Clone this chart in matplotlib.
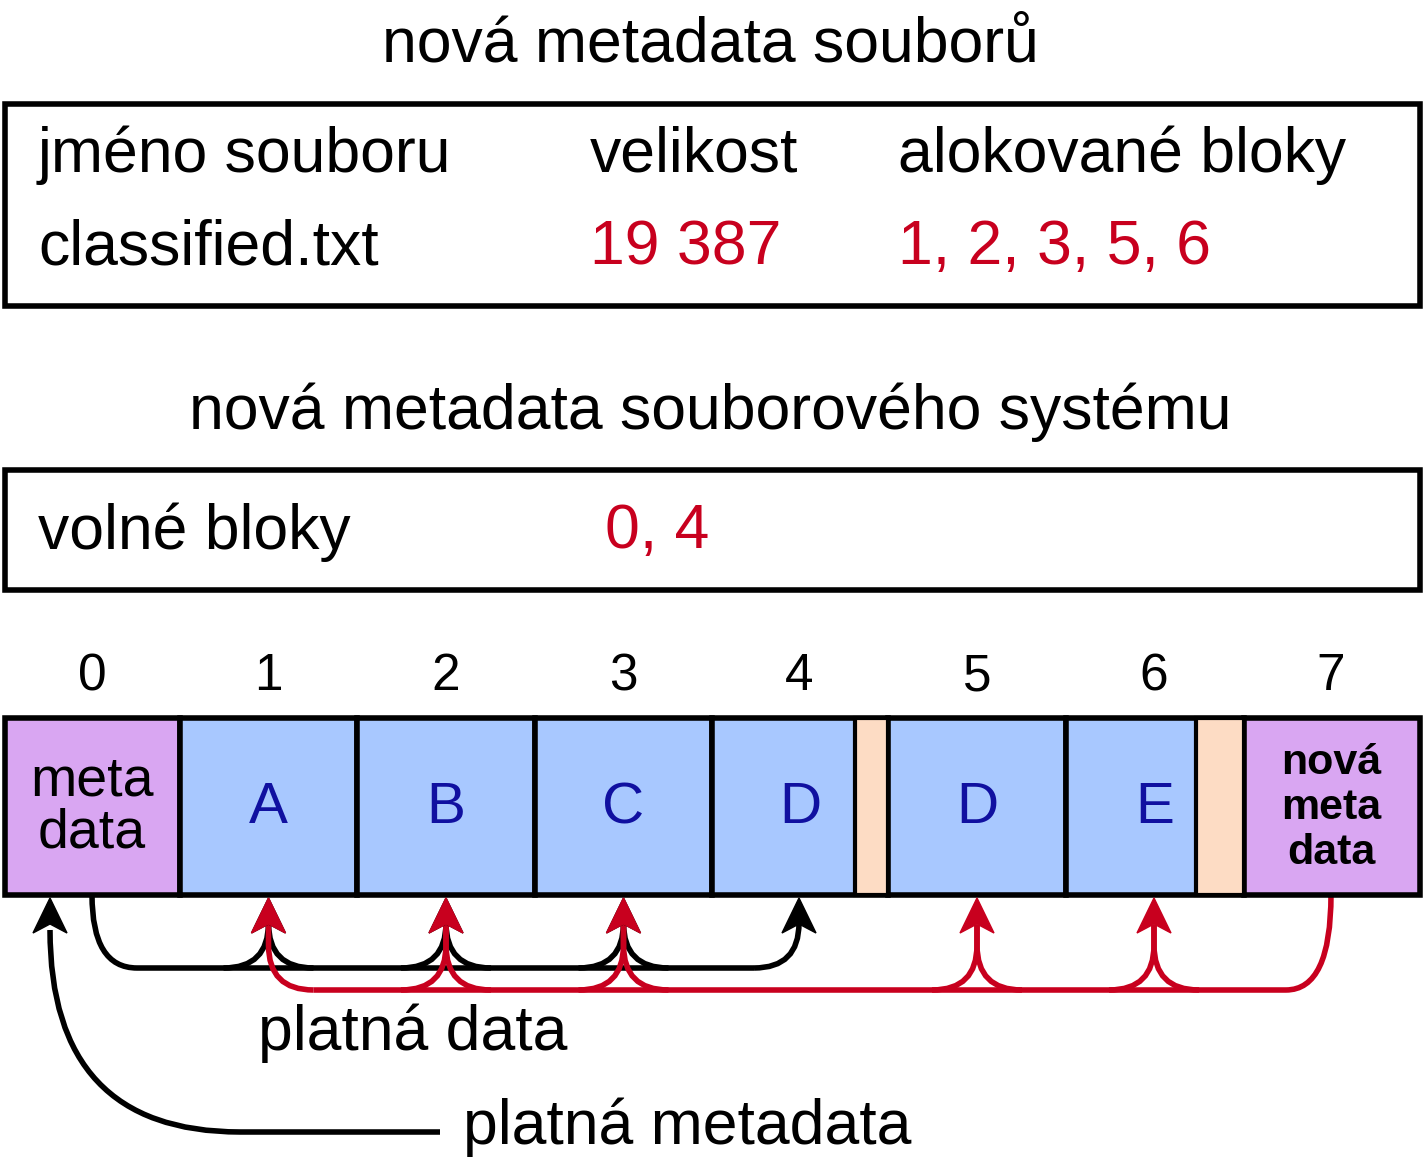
import matplotlib
matplotlib.use("Agg")
import matplotlib.pyplot as plt
from matplotlib.patches import Rectangle, PathPatch, Polygon
from matplotlib.path import Path

plt.rcParams['font.family'] = ['Liberation Sans', 'DejaVu Sans']

title1 = "nová metadata souborů"
headers = ["jméno souboru", "velikost", "alokované bloky"]
row = ["classified.txt", "19 387", "1, 2, 3, 5, 6"]
title2 = "nová metadata souborového systému"
free_label, free_val = "volné bloky", "0, 4"
block_nums = ["0", "1", "2", "3", "4", "5", "6", "7"]
block_text = ["meta\ndata", "A", "B", "C", "D", "D", "E", "nová\nmeta\ndata"]
old_targets = [1, 2, 3, 4]
new_targets = [1, 2, 3, 5, 6]

RED = "#C8001E"; BLUE = "#A8C8FF"; PURPLE = "#D9A6F2"; PEACH = "#FDDCC4"; DB = "#1010A0"
FS = 45

fig = plt.figure(figsize=(14.25, 11.63), dpi=100)
ax = fig.add_axes([0, 0, 1, 1])
ax.set_xlim(0, 1425); ax.set_ylim(1163, 0); ax.axis('off')

ax.text(710, 45, title1, ha='center', va='center', fontsize=FS)
ax.add_patch(Rectangle((5, 104), 1415, 202, fill=False, lw=4))
for x, h, r, c in zip([38, 590, 898], headers, row, ['k', RED, RED]):
    ax.text(x, 155, h, ha='left', va='center', fontsize=FS)
    ax.text(x, 248, r, ha='left', va='center', fontsize=FS, color=c)
ax.text(710, 412, title2, ha='center', va='center', fontsize=FS)
ax.add_patch(Rectangle((5, 470), 1415, 120, fill=False, lw=4))
ax.text(38, 532, free_label, ha='left', va='center', fontsize=FS)
ax.text(605, 532, free_val, ha='left', va='center', fontsize=FS, color=RED)

edges = [5, 180, 357, 535, 712, 888, 1066, 1244, 1420]
y0, y1 = 718, 895
centers = []
for i in range(8):
    xa, xb = edges[i], edges[i+1]
    col = PURPLE if i in (0, 7) else BLUE
    ax.add_patch(Rectangle((xa, y0), xb-xa, y1-y0, facecolor=col, edgecolor='k', lw=4, zorder=2))
    cx = (xa+xb)/2
    tx = cx
    if i == 4:
        ax.add_patch(Rectangle((855, y0), 33, y1-y0, facecolor=PEACH, edgecolor='k', lw=3, zorder=3)); tx = 800; cx = 799
    if i == 6:
        ax.add_patch(Rectangle((1196, y0), 48, y1-y0, facecolor=PEACH, edgecolor='k', lw=3, zorder=3)); tx = 1155; cx = 1154
    if i == 0: cx = tx = 92
    if i == 7: cx = tx = 1331
    centers.append(cx)
    ax.text(cx, 677, block_nums[i], ha='center', va='center', fontsize=37)
    if i == 0:
        ax.text(tx, 808, block_text[i], ha='center', va='center', fontsize=40, linespacing=1.0, zorder=4)
    elif i == 7:
        ax.text(tx, 808, block_text[i], ha='center', va='center', fontsize=31, fontweight='bold', linespacing=1.15, zorder=4)
    else:
        ax.text(tx, 808, block_text[i], ha='center', va='center', fontsize=42, color=DB, zorder=4)

def head(x, y, c):
    ax.add_patch(Polygon([(x, y), (x-17, y+35), (x, y+26), (x+17, y+35)], closed=True, color=c, zorder=5))

def branch(x, yl, c, sides):
    for s in sides:
        p = Path([(x+s*45, yl), (x, yl), (x, yl-45), (x, 925)],
                 [Path.MOVETO, Path.CURVE3, Path.CURVE3, Path.LINETO])
        ax.add_patch(PathPatch(p, fill=False, edgecolor=c, lw=4, capstyle='butt'))
    head(x, 898, c)

yl = 968
xs = [centers[i] for i in old_targets]
p = Path([(92, 895), (92, yl), (137, yl), (xs[-1]-45, yl)],
         [Path.MOVETO, Path.CURVE3, Path.CURVE3, Path.LINETO])
ax.add_patch(PathPatch(p, fill=False, edgecolor='k', lw=4))
for j, x in enumerate(xs):
    branch(x, yl, 'k', [-1] if j == len(xs)-1 else [-1, 1])

yl = 990
xs = [centers[i] for i in new_targets]
p = Path([(1331, 895), (1331, yl), (1286, yl), (xs[0]+45, yl)],
         [Path.MOVETO, Path.CURVE3, Path.CURVE3, Path.LINETO])
ax.add_patch(PathPatch(p, fill=False, edgecolor=RED, lw=4))
for j, x in enumerate(xs):
    branch(x, yl, RED, [1] if j == 0 else [-1, 1])

ax.text(258, 1033, "platná data", ha='left', va='center', fontsize=FS)
p = Path([(440, 1132), (240, 1132), (50, 1132), (50, 930)],
         [Path.MOVETO, Path.LINETO, Path.CURVE3, Path.CURVE3])
ax.add_patch(PathPatch(p, fill=False, edgecolor='k', lw=4))
head(50, 898, 'k')
ax.text(463, 1127, "platná metadata", ha='left', va='center', fontsize=FS)

fig.savefig("out.png", dpi=100)
